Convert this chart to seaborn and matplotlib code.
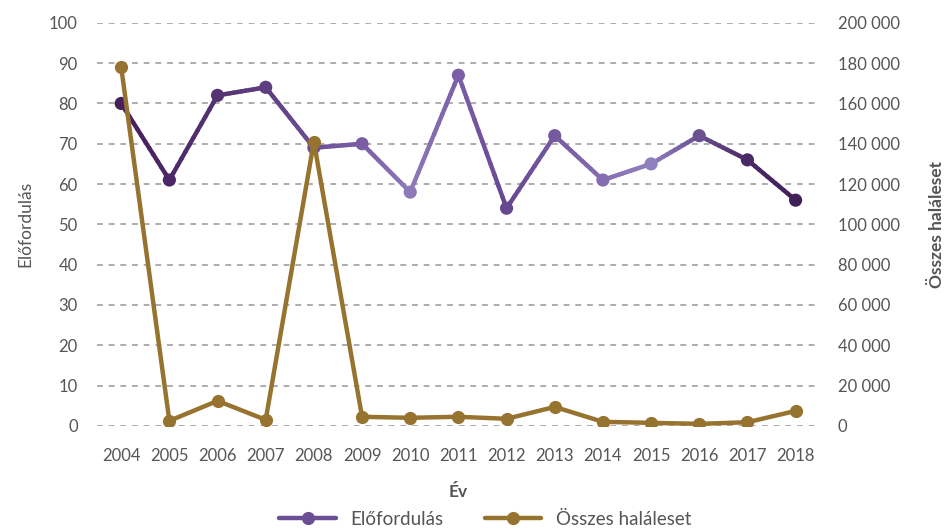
import numpy as np
import pandas as pd
import matplotlib
matplotlib.use("Agg")
import matplotlib.pyplot as plt
import seaborn as sns
from matplotlib.collections import LineCollection
from matplotlib.colors import to_rgb
from matplotlib.lines import Line2D

years = [2004, 2005, 2006, 2007, 2008, 2009, 2010, 2011, 2012, 2013, 2014, 2015, 2016, 2017, 2018]
occurrences = [80, 61, 82, 84, 69, 70, 58, 87, 54, 72, 61, 65, 72, 66, 56]
deaths = [178000, 2500, 12400, 3000, 141000, 4500, 4000, 4500, 3500, 9400, 2000, 1500, 1000, 1800, 7400]
point_colors = ["#45205c", "#4b2767", "#553474", "#5e3d82", "#6c4f96", "#7a5da3", "#8e79b9",
                "#7b5fa6", "#664891", "#755aa0", "#866cb1", "#9180be", "#6b5192", "#4a2a66", "#41205a"]
left_ticks = list(range(0, 101, 10))
right_ticks = list(range(0, 200001, 20000))
right_labels = ["0" if v == 0 else f"{v // 1000} 000" for v in right_ticks]

gold = "#977330"
txt = "#555555"

sns.set_theme(style="white")
plt.rcParams["font.family"] = ["Lato", "DejaVu Sans"]

fig = plt.figure(figsize=(9.52, 5.31), dpi=100)
ax1 = fig.add_axes([0.102, 0.198, 0.759, 0.759])
ax2 = ax1.twinx()

df = pd.DataFrame({"year": years, "occ": occurrences, "deaths": deaths})

# purple gradient line
segs, cols = [], []
n_sub = 12
for i in range(len(years) - 1):
    c0, c1 = np.array(to_rgb(point_colors[i])), np.array(to_rgb(point_colors[i + 1]))
    xs = np.linspace(years[i], years[i + 1], n_sub + 1)
    ys = np.linspace(occurrences[i], occurrences[i + 1], n_sub + 1)
    for k in range(n_sub):
        segs.append([(xs[k], ys[k]), (xs[k + 1], ys[k + 1])])
        t = (k + 0.5) / n_sub
        cols.append(tuple(c0 * (1 - t) + c1 * t))
lc = LineCollection(segs, colors=cols, linewidths=3.2, capstyle="round", zorder=3)
ax1.add_collection(lc)
sns.scatterplot(data=df, x="year", y="occ", hue="year", palette=point_colors,
                s=90, edgecolor="none", legend=False, ax=ax1, zorder=4)

sns.lineplot(data=df, x="year", y="deaths", color=gold, linewidth=3.2, marker="o",
             markersize=9.5, markeredgewidth=0, ax=ax2, zorder=5)

ax1.set_xlim(2003.5, 2018.5)
ax1.set_ylim(0, 100)
ax2.set_ylim(0, 200000)
ax1.set_yticks(left_ticks)
ax2.set_yticks(right_ticks)
ax2.set_yticklabels(right_labels)
ax1.set_xticks(years)
ax1.set_xticklabels([str(y) for y in years])

ax1.grid(axis="y", color="#acacac", linestyle=(0, (3, 3)), linewidth=1.4)
ax1.grid(axis="x", visible=False)
for a in (ax1, ax2):
    for s in a.spines.values():
        s.set_visible(False)
    a.tick_params(axis="both", length=0, labelsize=12, labelcolor=txt)
ax1.tick_params(axis="y", pad=14)
ax1.tick_params(axis="x", pad=16)
ax2.tick_params(axis="y", pad=13)

ax1.set_ylabel("Előfordulás", fontsize=12.5, color=txt, labelpad=11)
ax2.set_ylabel("Összes haláleset", fontsize=12.5, color=txt, fontweight="bold", labelpad=21)
ax1.set_xlabel("Év", fontsize=12.5, color=txt, fontweight="bold", labelpad=14)

handles = [Line2D([], [], color="#6a4f94", lw=3.2, marker="o", markersize=9.5, markeredgewidth=0),
           Line2D([], [], color=gold, lw=3.2, marker="o", markersize=9.5, markeredgewidth=0)]
fig.legend(handles, ["Előfordulás", "Összes haláleset"], loc="center", bbox_to_anchor=(0.51, 0.022),
           ncol=2, frameon=False, fontsize=13.5, labelcolor=txt, handlelength=3, columnspacing=2.2)

fig.savefig("out.png", dpi=100)
